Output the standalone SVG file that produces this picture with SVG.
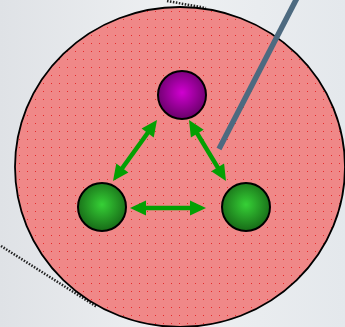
<svg xmlns="http://www.w3.org/2000/svg" width="345" height="327" viewBox="0 0 345 327">
<style>
.conn{stroke:#03a003;stroke-width:4.5;fill:none}
.head{fill:#03a003}
.node{stroke:#000;stroke-width:2}
.dots{stroke:#222;stroke-width:2.5;stroke-dasharray:1.5 1.5;fill:none}
</style>
<defs>
<linearGradient id="bg" x1="0" y1="0" x2="1" y2="0">
<stop offset="0" stop-color="#dfe2e6"/>
<stop offset="0.5" stop-color="#eef0f2"/>
<stop offset="1" stop-color="#e4e8ec"/>
</linearGradient>
<radialGradient id="gp" cx="0.5" cy="0.45" r="0.55">
<stop offset="0" stop-color="#d000d0"/>
<stop offset="1" stop-color="#6a006a"/>
</radialGradient>
<radialGradient id="gg" cx="0.5" cy="0.45" r="0.55">
<stop offset="0" stop-color="#36d036"/>
<stop offset="1" stop-color="#176a17"/>
</radialGradient>
<pattern id="dp" width="8" height="8" patternUnits="userSpaceOnUse">
<rect width="8" height="8" fill="#f08888"/>
<rect x="3" y="3" width="1" height="1" fill="#e82a2a"/>
</pattern>
</defs>
<rect width="345" height="327" fill="url(#bg)"/>
<path class="dots" d="M167,1 L206,8"/>
<path class="dots" d="M1,246 L97,307"/>
<g id="cell">
<ellipse cx="180" cy="167" rx="165" ry="160" fill="url(#dp)" stroke="#000" stroke-width="1.8"/>
</g>
<line x1="297" y1="-2" x2="219" y2="149" stroke="#4d6a80" stroke-width="5.5"/>
<g id="connectors">
<line class="conn" x1="148" y1="132.5" x2="122" y2="168.5"/>
<polygon class="head" points="157,120 153.7,137.4 141.6,128.6"/>
<polygon class="head" points="113,181 128.4,172.4 116.3,163.6"/>
<line class="conn" x1="197" y1="133.2" x2="218" y2="167.8"/>
<polygon class="head" points="189,120 203.7,129.8 190.9,137.6"/>
<polygon class="head" points="226,181 224.1,163.4 211.3,171.2"/>
<line class="conn" x1="145" y1="208" x2="191" y2="208"/>
<polygon class="head" points="130,208 146,200.5 146,215.5"/>
<polygon class="head" points="206,208 190,200.5 190,215.5"/>
</g>
<g id="top"><circle class="node" cx="182" cy="95" r="24" fill="url(#gp)"/></g>
<g id="left"><circle class="node" cx="102" cy="207" r="24" fill="url(#gg)"/></g>
<g id="right"><circle class="node" cx="246" cy="207" r="24" fill="url(#gg)"/></g>
</svg>
